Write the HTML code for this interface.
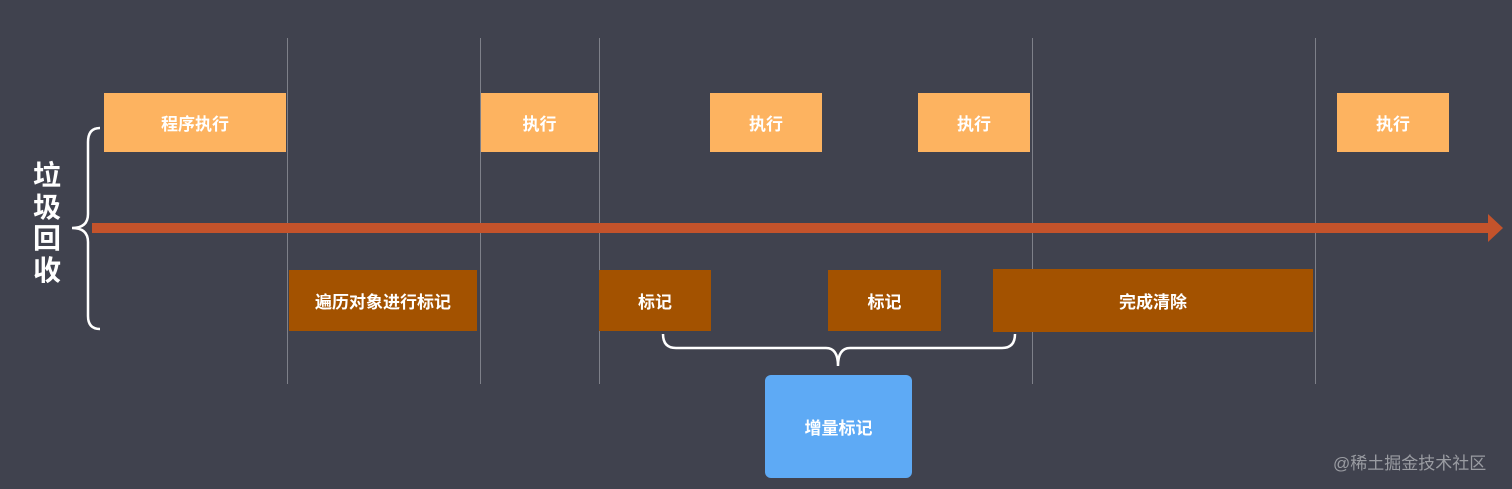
<!DOCTYPE html>
<html><head><meta charset="utf-8"><style>
body{margin:0;width:1512px;height:489px;background:#40424e;position:relative;overflow:hidden;font-family:"Liberation Sans","Noto Sans CJK SC",sans-serif}
.b{position:absolute;display:flex;align-items:center;justify-content:center;color:#fff;font-weight:bold;font-size:17px}
.o{background:#fdb360;top:93px;height:59px}
.d{background:#a35200;top:270px;height:61px}
.v{position:absolute;top:38px;height:346px;width:1px;background:#7e8089}
</style></head><body>
<div class="v" style="left:287px"></div>
<div class="v" style="left:480px"></div>
<div class="v" style="left:599px"></div>
<div class="v" style="left:1032px"></div>
<div class="v" style="left:1315px"></div>
<div class="b o" style="left:104px;width:182px">程序执行</div>
<div class="b o" style="left:481px;width:117px">执行</div>
<div class="b o" style="left:710px;width:112px">执行</div>
<div class="b o" style="left:918px;width:112px">执行</div>
<div class="b o" style="left:1337px;width:112px">执行</div>
<div class="b d" style="left:289px;width:188px">遍历对象进行标记</div>
<div class="b d" style="left:599px;width:112px">标记</div>
<div class="b d" style="left:828px;width:113px">标记</div>
<div class="b d" style="left:993px;width:320px;top:269px;height:63px">完成清除</div>
<div class="b" style="left:765px;top:375px;width:147px;height:103px;background:#5eaaf5;border-radius:6px">增量标记</div>
<svg width="1512" height="489" style="position:absolute;left:0;top:0">
<rect x="92" y="223" width="1400" height="10" fill="#c4532b"/>
<polygon points="1488,214 1503,228 1488,242" fill="#c4532b"/>
<path d="M100,128 Q88,128 88,142 L88,214 Q88,228 72,228 Q88,228 88,242 L88,316 Q88,329 100,329" fill="none" stroke="#fff" stroke-width="2.5"/>
<path d="M663,334 Q663,348 676,348 L826,348 Q838,348 838,366 Q838,348 850,348 L1002,348 Q1015,348 1015,334" fill="none" stroke="#fff" stroke-width="2.5"/>
</svg>
<div style="position:absolute;left:30px;top:160px;width:34px;color:#fff;font-weight:bold;font-size:28px;line-height:31.5px;text-align:center">垃<br>圾<br>回<br>收</div>
<div style="position:absolute;left:1333px;top:449px;color:#9a9ca2;font-size:17px">@稀土掘金技术社区</div>
</body></html>
